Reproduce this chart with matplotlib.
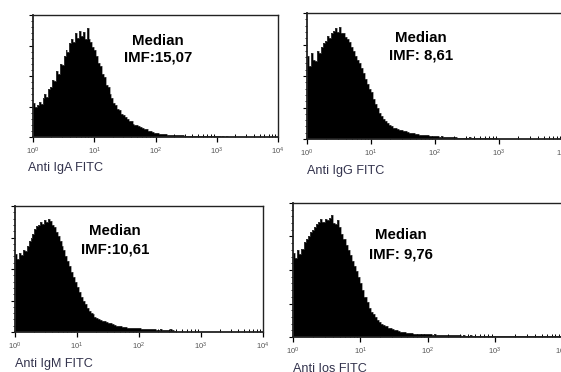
import numpy as np
import matplotlib

matplotlib.use("Agg")
import matplotlib.pyplot as plt
from matplotlib.ticker import LogLocator, LogFormatterMathtext, FixedLocator, NullFormatter

plt.rcParams["font.family"] = ["Liberation Sans", "DejaVu Sans"]
plt.rcParams["mathtext.default"] = "regular"

W, H = 561, 372

# histogram counts, 32 channels per decade (10^0 .. 10^4), % of full scale
iga_counts = (
    [28, 25, 26, 29, 27, 32, 35, 33, 39, 41, 47, 46, 54, 52, 60, 59,
     66, 71, 70, 77, 80, 78, 85, 81, 87, 83, 86, 80, 89, 80, 78, 74]
    + [71, 66, 61, 58, 52, 49, 43, 41, 35, 32, 28, 26, 23, 22, 19, 18,
       16, 15, 13, 13, 11, 10, 9.5, 9, 8, 7.5, 6.5, 6.5, 5, 5, 4, 3.5]
    + [3, 3.5, 2.5, 2.8, 2.2, 2.4, 2, 1.8, 2, 1.6, 1.5, 1.7, 1.4, 1.3, 1.5, 1.2,
       1.2, 1.0, 1.1, 1, 0.9, 1.1, 0.8, 0.9, 0.8, 0.7, 0.9, 0.7, 0.6, 0.8, 0.6, 0.5]
    + [0.5, 0.6, 0.4, 0.5, 0.4, 0.5, 0.3, 0.4, 0.3, 0.4, 0.3, 0.3, 0.2, 0.3, 0.2, 0.3,
       0.2, 0.2, 0.2, 0.3, 0.2, 0.2, 0.1, 0.2, 0.1, 0.2, 0.1, 0.1, 0.1, 0.2, 0.1, 0.1]
)
igg_counts = (
    [66, 58, 68, 63, 62, 70, 68, 73, 76, 78, 82, 80, 84, 86, 88, 85,
     89, 84, 84, 81, 79, 77, 73, 70, 66, 63, 60, 56, 52, 48, 44, 40]
    + [37, 32, 28, 25, 21, 18, 16, 14, 13, 11, 10, 9, 8.5, 8, 7.5, 7,
       6.5, 6, 5.5, 5, 4.5, 4.5, 4, 4, 3.5, 3.5, 3, 3, 3, 2.5, 2.5, 2.2]
    + [2, 2.2, 1.8, 2.5, 1.6, 1.5, 1.7, 1.4, 1.3, 1.2, 1.5, 1.1, 1, 1.1, 0.9, 0.9,
       0.8, 1.2, 0.8, 0.7, 0.7, 0.6, 0.6, 0.7, 0.5, 0.5, 0.6, 0.4, 0.4, 0.5, 0.4, 0.3]
    + [0.3, 0.3, 0.3, 0.2, 0.3, 0.2, 0.2, 0.3, 0.2, 0.2, 0.2, 0.1, 0.2, 0.2, 0.1, 0.1,
       0.2, 0.1, 0.1, 0.1, 0.1, 0.1, 0.1, 0.1, 0.1, 0.1, 0.1, 0.1, 0.1, 0.1, 0.1, 0.1]
)
igm_counts = (
    [62, 58, 63, 61, 65, 64, 68, 72, 75, 78, 82, 84, 85, 87, 86, 89,
     87, 90, 88, 85, 83, 79, 76, 72, 68, 65, 60, 56, 52, 48, 44, 40]
    + [36, 32, 28, 25, 22, 19, 17, 15, 14, 12, 11, 10, 9.5, 9, 8.5, 8,
       7.5, 7, 6, 5.5, 5, 5, 4.5, 4, 4, 3.8, 3.5, 3.5, 3.2, 3, 3, 2.8]
    + [2.8, 2.6, 2.5, 2.5, 2.3, 2.2, 2.0, 2.5, 2.0, 1.8, 1.8, 2.2, 1.7, 1.6, 1.8, 1.5,
       2.0, 1.4, 0.4, 0.3, 0.3, 0.3, 0.2, 0.3, 0.2, 0.2, 0.2, 0.2, 0.1, 0.2, 0.1, 0.1]
    + [0.1, 0.1, 0.1, 0.1, 0.1, 0.1, 0.1, 0.1, 0.1, 0.1, 0.1, 0.1, 0.1, 0.1, 0.1, 0.1,
       0.1, 0.1, 0.1, 0.1, 0.1, 0.1, 0.1, 0.1, 0.1, 0.1, 0.1, 0.1, 0.1, 0.1, 0.1, 0.1]
)
ios_counts = (
    [63, 59, 65, 62, 66, 71, 73, 75, 78, 80, 82, 84, 86, 88, 86, 88,
     87, 89, 91, 85, 84, 87, 82, 77, 73, 69, 65, 61, 57, 53, 49, 45]
    + [40, 35, 30, 26, 22, 19, 17, 15, 13, 11.5, 10, 9, 8, 7, 6.5, 6,
       5.5, 5, 4.5, 4, 4, 3.5, 3.2, 3, 2.8, 2.6, 2.5, 2.4, 2.3, 2.2, 2.1, 2]
    + [2, 1.9, 1.8, 2.2, 1.7, 1.6, 1.8, 1.5, 1.5, 1.4, 1.6, 1.3, 1.3, 1.2, 1.4, 1.2,
       1.1, 1.3, 1.1, 1, 1.2, 1, 1, 0.9, 1.1, 0.9, 0.9, 1, 0.8, 0.9, 0.8, 0.9]
    + [0.8, 0.9, 0.8, 0.7, 0.9, 0.8, 0.7, 0.8, 0.7, 0.9, 0.7, 0.6, 0.8, 0.7, 0.6, 0.7,
       0.6, 0.8, 0.6, 0.6, 0.7, 0.6, 0.5, 0.7, 0.5, 0.6, 0.5, 0.6, 0.5, 0.5, 0.6, 0.5]
)

axis_labels = ["Anti IgA FITC", "Anti IgG FITC", "Anti IgM FITC", "Anti Ios FITC"]
median_labels = ["IMF:15,07", "IMF: 8,61", "IMF:10,61", "IMF: 9,76"]

# layout in pixels: (left, top, right, bottom), text centre x, y of 2 lines, label x, y
panels = [
    dict(counts=iga_counts, box=(33, 15, 278, 137), tx=158, ty=(41, 57), lx=28, ly=168),
    dict(counts=igg_counts, box=(307, 13, 563, 139), tx=421, ty=(37.5, 56), lx=307, ly=171),
    dict(counts=igm_counts, box=(15, 206, 263, 332), tx=115, ty=(231, 249), lx=15, ly=364),
    dict(counts=ios_counts, box=(293, 203, 562, 337), tx=401, ty=(235, 254.5), lx=293, ly=369),
]

fig = plt.figure(figsize=(W / 100, H / 100), dpi=100, facecolor="white")

for i, p in enumerate(panels):
    l, t, r, b = p["box"]
    ax = fig.add_axes([l / W, 1 - b / H, (r - l) / W, (b - t) / H])
    counts = np.array(p["counts"], dtype=float)
    n = len(counts)
    edges = 10 ** (np.arange(n + 1) * 4.0 / n)
    ax.stairs(counts, edges, fill=True, color="black", linewidth=0)
    ax.stairs(counts, edges, color="#555555", linewidth=0.4)

    ax.set_xscale("log")
    ax.set_xlim(1, 1e4)
    ax.set_ylim(0, 100)

    ax.xaxis.set_major_locator(LogLocator(base=10, numticks=6))
    ax.xaxis.set_major_formatter(LogFormatterMathtext())
    ax.xaxis.set_minor_locator(LogLocator(base=10, subs=np.arange(2, 10), numticks=12))
    ax.xaxis.set_minor_formatter(NullFormatter())
    ax.yaxis.set_major_locator(FixedLocator([0, 25, 50, 75, 100]))
    ax.yaxis.set_minor_locator(FixedLocator(np.arange(0, 101, 5)))
    ax.set_yticklabels([])

    ax.tick_params(axis="x", which="major", direction="out", length=3.5, width=0.9,
                   labelsize=5.5, labelcolor="#555555", pad=2.5)
    ax.tick_params(axis="x", which="minor", direction="in", length=2, width=0.7)
    ax.tick_params(axis="y", which="major", direction="out", length=3, width=0.8)
    ax.tick_params(axis="y", which="minor", direction="out", length=1.5, width=0.6)

    for side, sp in ax.spines.items():
        sp.set_color("#222222")
        sp.set_linewidth(1.3 if side in ("bottom", "left") else 1.0)

    fig.text(p["tx"] / W, 1 - p["ty"][0] / H, "Median", ha="center", va="center",
             fontsize=10.8, fontweight="bold", color="black")
    fig.text(p["tx"] / W, 1 - p["ty"][1] / H, median_labels[i], ha="center", va="center",
             fontsize=10.8, fontweight="bold", color="black")
    fig.text(p["lx"] / W, 1 - p["ly"] / H, axis_labels[i], ha="left", va="center",
             fontsize=9.1, color="#33334d")

fig.savefig("out.png", dpi=100, facecolor="white")
